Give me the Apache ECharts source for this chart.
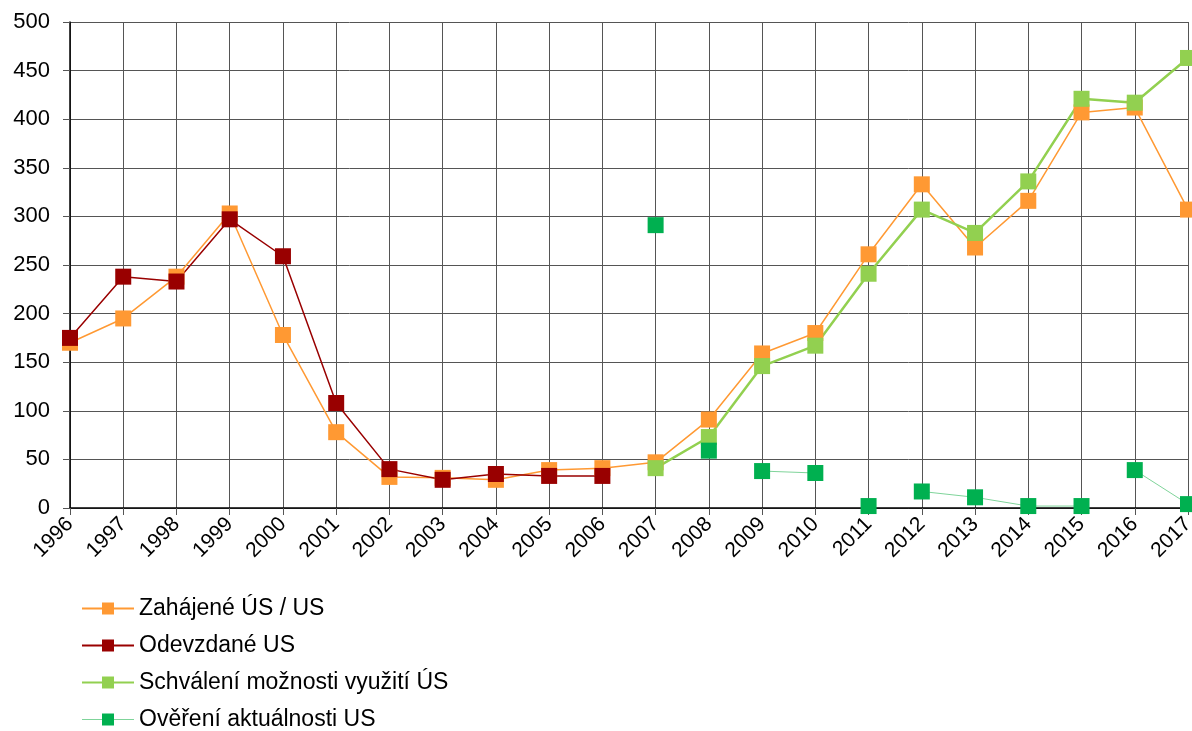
<!DOCTYPE html>
<html>
<head>
    <meta http-equiv=Content-Type content="text/html; charset=utf-8">
    <title>Územní studie</title>
    <script type="text/javascript" src="https://cdn.jsdelivr.net/npm/echarts@6/dist/echarts.min.js"></script>
    <style>
        html, body {margin: 0; padding: 0; background: #fff;}
        #chartmain {width: 1192px; height: 731px;}
    </style>
</head>
<body>
<div id="chartmain"></div>

<script type="text/javascript">
    // roky na ose x
    var years = ['1996', '1997', '1998', '1999', '2000', '2001', '2002', '2003', '2004', '2005', '2006',
        '2007', '2008', '2009', '2010', '2011', '2012', '2013', '2014', '2015', '2016', '2017'];

    var zahajene = [170, 195, 238, 303, 178, 78, 32, 31, 29, 39, 41,
        47, 91, 159, 180, 261, 333, 268, 316, 407, 412, 307];
    var odevzdane = [175, 238, 233, 297, 259, 108, 40, 29, 35, 33, 33,
        null, null, null, null, null, null, null, null, null, null, null];
    var schvaleni = [null, null, null, null, null, null, null, null, null, null, null,
        41, 73, 146, 167, 241, 307, 283, 336, 421, 417, 463];
    var overeni = [null, null, null, null, null, null, null, null, null, null, null,
        291, 59, 38, 36, 2, 17, 11, 2, 2, 39, 4];

    // useky krivky "Ověření" ktere jsou v grafu spojene carou (indexy od-do)
    var overeniUseky = [[13, 14], [16, 19], [20, 21]];

    var yTicks = [0, 50, 100, 150, 200, 250, 300, 350, 400, 450, 500];

    function usek(values, from, to) {
        var out = [];
        for (var i = 0; i < values.length; i++) {
            out.push(i >= from && i <= to ? values[i] : null);
        }
        return out;
    }

    var font = 'Liberation Sans, Arial, sans-serif';
    var myChart = echarts.init(document.getElementById('chartmain'));

    var series = [
        {
            name: 'Zahájené ÚS / US',
            type: 'line',
            data: zahajene,
            symbol: 'rect',
            symbolSize: 16,
            itemStyle: {color: '#ff9933'},
            lineStyle: {color: '#ff9933', width: 1.5},
            animation: false
        },
        {
            name: 'Odevzdané US',
            type: 'line',
            data: odevzdane,
            symbol: 'rect',
            symbolSize: 16,
            itemStyle: {color: '#990000'},
            lineStyle: {color: '#990000', width: 1.5},
            animation: false
        },
        {
            name: 'Schválení možnosti využití ÚS',
            type: 'line',
            data: schvaleni,
            symbol: 'rect',
            symbolSize: 16,
            itemStyle: {color: '#92d050'},
            lineStyle: {color: '#92d050', width: 2.5},
            animation: false
        }
    ];
    // spojovaci cary pro overeni (bez znacek)
    for (var k = 0; k < overeniUseky.length; k++) {
        series.push({
            name: 'overeni_usek_' + k,
            type: 'line',
            data: usek(overeni, overeniUseky[k][0], overeniUseky[k][1]),
            showSymbol: false,
            symbol: 'none',
            lineStyle: {color: '#7fd49a', width: 1},
            silent: true,
            animation: false
        });
    }
    series.push({
        name: 'Ověření aktuálnosti US',
        type: 'line',
        data: overeni,
        symbol: 'rect',
        symbolSize: 16,
        itemStyle: {color: '#00b050'},
        lineStyle: {opacity: 0},
        animation: false
    });

    var option = {
        backgroundColor: '#fff',
        grid: {left: 70, right: 4, top: 22, bottom: 223, containLabel: false, outerBoundsMode: 'none'},
        legend: {
            orient: 'vertical',
            left: 76,
            top: 592,
            height: 170,
            itemGap: 14,
            itemWidth: 52,
            itemHeight: 15,
            textStyle: {fontFamily: font, fontSize: 23, lineHeight: 23, color: '#000'},
            data: [
                {name: 'Zahájené ÚS / US'},
                {name: 'Odevzdané US'},
                {name: 'Schválení možnosti využití ÚS'},
                {name: 'Ověření aktuálnosti US', lineStyle: {opacity: 1, color: '#7fd49a', width: 1}}
            ]
        },
        xAxis: {
            type: 'category',
            data: years,
            boundaryGap: false,
            axisLine: {lineStyle: {color: '#000', width: 1.5}},
            axisTick: {show: true, length: 7, lineStyle: {color: '#555'}},
            axisLabel: {
                rotate: 45,
                interval: 0,
                margin: 13,
                fontFamily: font,
                fontSize: 21,
                color: '#000'
            },
            splitLine: {show: true, lineStyle: {color: '#555', width: 1}}
        },
        yAxis: {
            type: 'value',
            min: yTicks[0],
            max: yTicks[yTicks.length - 1],
            interval: 50,
            axisLine: {show: true, lineStyle: {color: '#000', width: 1.5}},
            axisTick: {show: true, length: 7, lineStyle: {color: '#555'}},
            axisLabel: {fontFamily: font, fontSize: 22, color: '#000', margin: 20},
            splitLine: {show: true, lineStyle: {color: '#555', width: 1}}
        },
        series: series
    };
    myChart.setOption(option);
</script>
</body>
</html>
